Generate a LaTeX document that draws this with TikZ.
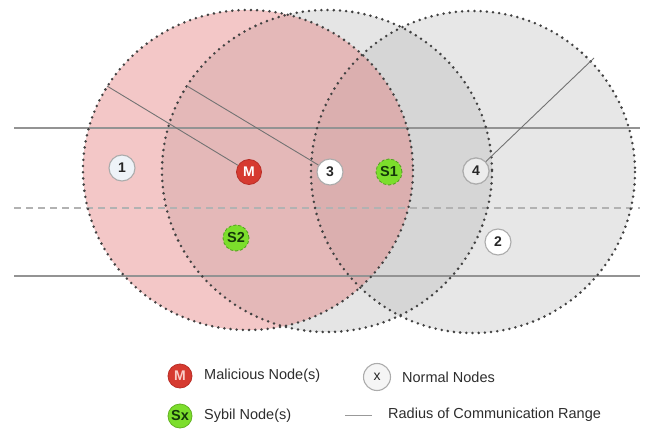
\documentclass[tikz,border=0pt]{standalone}
\usepackage{fontspec}
\setmainfont{Liberation Sans}
\definecolor{redfill}{RGB}{228,122,122}
\definecolor{grayfill}{RGB}{187,187,187}
\definecolor{dotcol}{RGB}{65,65,65}
\definecolor{malred}{RGB}{214,58,48}
\definecolor{malborder}{RGB}{185,45,38}
\definecolor{sybgreen}{RGB}{124,222,44}
\definecolor{sybborder}{RGB}{80,160,30}
\definecolor{sybtext}{RGB}{20,55,10}
\definecolor{legtext}{RGB}{45,45,45}
\tikzset{
  rangeborder/.style={draw=dotcol, line width=2.8pt, line cap=round, dash pattern=on 0pt off 6.2pt},
  normalnode/.style={circle, draw=gray!65, line width=1.1pt, fill=white, minimum size=26pt, inner sep=0pt,
     font=\bfseries\fontsize{14}{14}\selectfont, text=black!85},
  malnode/.style={circle, draw=malborder, line width=0.8pt, fill=malred, minimum size=25pt, inner sep=0pt,
     font=\bfseries\fontsize{14}{14}\selectfont, text=white},
  sybnode/.style={circle, draw=sybborder, densely dashed, line width=0.8pt, fill=sybgreen, minimum size=26pt, inner sep=0pt,
     font=\bfseries\fontsize{14.5}{14.5}\selectfont, text=sybtext},
  radiusline/.style={draw=gray!90!black, line width=0.9pt},
  hline/.style={draw=gray!85, line width=1.1pt},
  dline/.style={draw=gray!60, line width=1.1pt, dash pattern=on 7pt off 5pt},
  legendtext/.style={anchor=west, inner sep=0pt, text=legtext, font=\fontsize{14.5}{15}\selectfont}
}
\begin{document}
\begin{tikzpicture}[x=1pt,y=-1pt]
\useasboundingbox (0,0) rectangle (645,433);
\fill[white] (0,0) rectangle (645,433);
% range fills
\fill[grayfill, fill opacity=0.38] (327,171) ellipse [x radius=165, y radius=161];
\fill[grayfill, fill opacity=0.35] (473,172) ellipse [x radius=162, y radius=161];
\fill[redfill, fill opacity=0.42] (248,170) ellipse [x radius=165, y radius=160];
% horizontal lines
\draw[hline] (14,128) -- (640,128);
\draw[hline] (14,276) -- (640,276);
\draw[dline] (14,208) -- (640,208);
% range borders
\draw[rangeborder] (327,171) ellipse [x radius=165, y radius=161];
\draw[rangeborder] (473,172) ellipse [x radius=162, y radius=161];
\draw[rangeborder] (248,170) ellipse [x radius=165, y radius=160];
% nodes
\node[normalnode, fill={rgb,255:red,238;green,243;blue,248}] (n1) at (122,168) {1};
\node[malnode] (m) at (249,172) {M};
\node[normalnode] (n3) at (330,172) {3};
\node[sybnode] (s1) at (389,172) {S1};
\node[normalnode, fill={rgb,255:red,236;green,236;blue,236}] (n4) at (476,171) {4};
\node[sybnode] (s2) at (236,238) {S2};
\node[normalnode] (n2) at (498,242) {2};
% radius lines
\coordinate (r1) at (107,86);
\coordinate (r2) at (187,86);
\coordinate (r3) at (594,58);
\draw[radiusline] (r1) -- (m);
\draw[radiusline] (r2) -- (n3);
\draw[radiusline] (r3) -- (n4.center);
\node[normalnode, fill={rgb,255:red,236;green,236;blue,236}] at (n4) {4};
% legend
\node[malnode, minimum size=24pt, text={rgb,255:red,250;green,205;blue,200}] (lm) at (180,376) {M};
\node[legendtext] (lmt) at (204,376) {Malicious Node(s)};
\node[normalnode, minimum size=27pt, fill={rgb,255:red,245;green,245;blue,245}, font=\fontsize{14}{14}\selectfont] (lx) at (377,377) {x};
\node[legendtext] (lxt) at (402,377) {Normal Nodes};
\node[sybnode, solid, draw=sybgreen!80!black, minimum size=24pt] (ls) at (180,416) {Sx};
\node[legendtext] (lst) at (204,416) {Sybil Node(s)};
\coordinate (la) at (345,415);
\coordinate (lb) at (372,415);
\draw[draw=gray!80, line width=0.8pt] (la) -- (lb);
\node[legendtext] (lrt) at (388,415) {Radius of Communication Range};
\end{tikzpicture}
\end{document}
